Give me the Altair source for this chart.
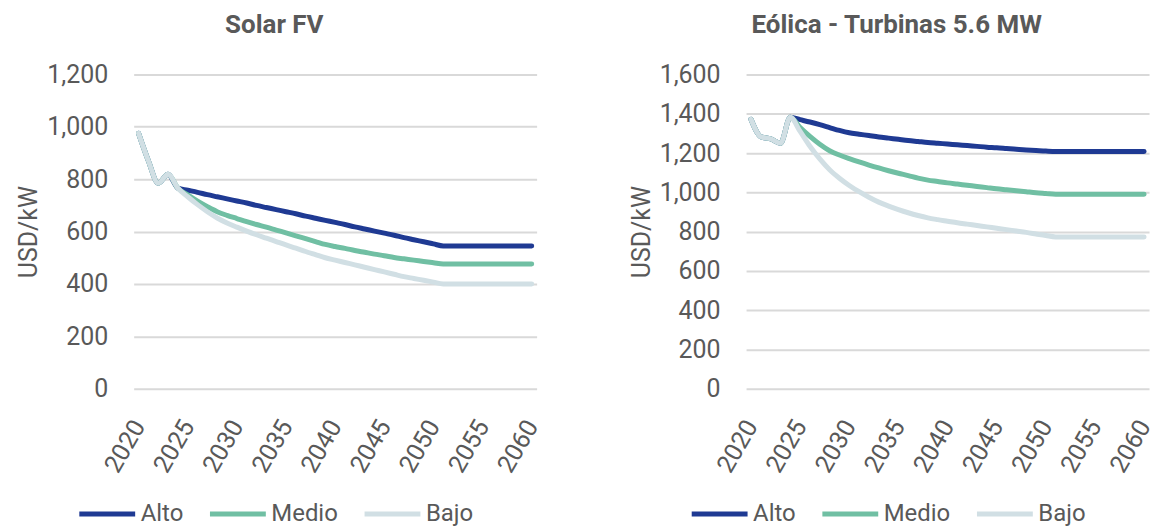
import altair as alt
import pandas as pd

years = list(range(2020, 2061))
series = ["Alto", "Medio", "Bajo"]
colors = ["#1f3a93", "#70bfa3", "#d1dfe4"]

# Solar FV (USD/kW)
solar_alto = [975, 870, 785, 819, 766, 758, 750, 741, 733, 725, 717, 709, 700, 692, 684, 676,
              668, 659, 651, 643, 635, 627, 618, 610, 602, 594, 586, 577, 569, 561, 553, 545,
              545, 545, 545, 545, 545, 545, 545, 545, 545]
solar_medio = [975, 870, 785, 819, 766, 740, 716, 695, 676, 662, 650, 638, 627, 617, 606, 595,
               584, 573, 562, 551, 543, 536, 528, 521, 514, 508, 501, 496, 491, 486, 481, 476,
               476, 476, 476, 476, 476, 476, 476, 476, 476]
solar_bajo = [975, 870, 785, 819, 766, 733, 703, 676, 652, 633, 617, 602, 588, 575, 562, 549,
              537, 524, 512, 500, 491, 482, 473, 464, 455, 446, 437, 428, 421, 414, 407, 400,
              400, 400, 400, 400, 400, 400, 400, 400, 400]

# Eólica - Turbinas 5.6 MW (USD/kW)
wind_alto = [1372, 1283, 1272, 1250, 1382, 1370, 1358, 1345, 1330, 1315, 1303, 1296, 1289, 1282,
             1276, 1270, 1264, 1259, 1254, 1250, 1246, 1242, 1238, 1234, 1230, 1227, 1223, 1219,
             1216, 1213, 1210, 1208, 1208, 1208, 1208, 1208, 1208, 1208, 1208, 1208, 1208]
wind_medio = [1372, 1283, 1272, 1250, 1382, 1330, 1285, 1245, 1212, 1190, 1172, 1155, 1139, 1124,
              1110, 1097, 1085, 1072, 1062, 1055, 1048, 1042, 1036, 1030, 1024, 1018, 1013, 1008,
              1003, 998, 994, 990, 990, 990, 990, 990, 990, 990, 990, 990, 990]
wind_bajo = [1372, 1283, 1272, 1250, 1382, 1310, 1235, 1170, 1115, 1072, 1035, 1003, 975, 950,
             930, 912, 896, 882, 870, 861, 853, 845, 838, 831, 824, 817, 810, 803,
             796, 788, 780, 773, 773, 773, 773, 773, 773, 773, 773, 773, 773]

x_ticks = [2020, 2025, 2030, 2035, 2040, 2045, 2050, 2055, 2060]
TXT = "#595959"
FONT = "Roboto"


def make_df(alto, medio, bajo):
    rows = []
    for name, vals in zip(series, [alto, medio, bajo]):
        for yr, v in zip(years, vals):
            rows.append({"Año": yr, "Serie": name, "Valor": v})
    return pd.DataFrame(rows)


def panel(df, title, ymax, yticks, title_dx):
    base = alt.Chart(df).mark_line(strokeWidth=5, strokeCap="round", strokeJoin="round",
                                   interpolate="monotone").encode(
        x=alt.X("Año:Q",
                scale=alt.Scale(domain=[2019.5, 2060.5], nice=False, zero=False),
                axis=alt.Axis(values=x_ticks, format="d", title=None, grid=False,
                              domain=False, ticks=False, labelAngle=300,
                              labelAlign="right", labelBaseline="middle",
                              labelPadding=33, labelFlush=False, labelOverlap=False,
                              labelFontSize=25, labelColor=TXT, labelFont=FONT)),
        y=alt.Y("Valor:Q",
                scale=alt.Scale(domain=[0, ymax], nice=False),
                axis=alt.Axis(values=yticks, format=",.0f", title="USD/kW",
                              domain=False, ticks=False, grid=True,
                              gridColor="#d9d9d9", gridWidth=2,
                              labelPadding=26, labelFontSize=25, labelColor=TXT,
                              labelFont=FONT, titleFontSize=25, titleColor=TXT,
                              titleFont=FONT, titleFontWeight="normal",
                              titlePadding=5)),
        color=alt.Color("Serie:N",
                        scale=alt.Scale(domain=series, range=colors),
                        legend=alt.Legend(title=None, orient="none", direction="horizontal",
                                          legendX=-57, legendY=410,
                                          symbolType="stroke", symbolSize=3136,
                                          symbolStrokeWidth=5, labelFontSize=24,
                                          labelColor=TXT, labelFont=FONT, labelOffset=3,
                                          columnPadding=16)),
    )
    layers = [base.transform_filter(alt.datum.Serie == s) for s in series]
    return alt.layer(*layers).properties(
        width=404, height=315,
        title=alt.TitleParams(title, fontSize=26, fontWeight="bold", color=TXT,
                              font=FONT, anchor="middle", frame="group", offset=25,
                              dx=title_dx),
    )


left = panel(make_df(solar_alto, solar_medio, solar_bajo), "Solar FV", 1200,
             [0, 200, 400, 600, 800, 1000, 1200], -61)
right = panel(make_df(wind_alto, wind_medio, wind_bajo), "Eólica - Turbinas 5.6 MW", 1600,
              [0, 200, 400, 600, 800, 1000, 1200, 1400, 1600], -51)

chart = alt.hconcat(left, right, spacing=85).resolve_legend(color="independent").resolve_scale(
    color="independent").properties(padding={"left": 8, "top": 3, "right": 0, "bottom": 0}
).configure(font=FONT).configure_view(strokeWidth=0, stroke="transparent")

chart.save("out.html", embed_options={"renderer": "svg", "actions": False})
